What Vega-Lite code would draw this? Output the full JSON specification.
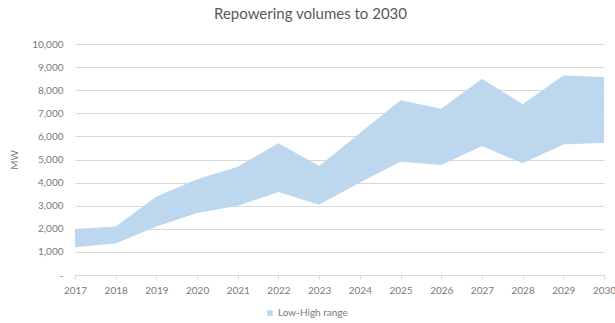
{
  "$schema": "https://vega.github.io/schema/vega-lite/v6.json",
  "width": 529,
  "height": 231,
  "autosize": "none",
  "padding": {"left": 75, "top": 44, "right": 11, "bottom": 48},
  "background": "white",
  "config": {
    "font": "Lato",
    "view": {"stroke": null}
  },
  "title": {
    "text": "Repowering volumes to 2030",
    "fontSize": 15,
    "fontWeight": "normal",
    "color": "#595959",
    "anchor": "middle",
    "dx": -29,
    "offset": 17
  },
  "data": {
    "values": [
      {"year": "2017", "low": 1200, "high": 1990, "series": "Low-High range"},
      {"year": "2018", "low": 1360, "high": 2100, "series": "Low-High range"},
      {"year": "2019", "low": 2100, "high": 3400, "series": "Low-High range"},
      {"year": "2020", "low": 2680, "high": 4150, "series": "Low-High range"},
      {"year": "2021", "low": 3000, "high": 4690, "series": "Low-High range"},
      {"year": "2022", "low": 3590, "high": 5700, "series": "Low-High range"},
      {"year": "2023", "low": 3040, "high": 4720, "series": "Low-High range"},
      {"year": "2024", "low": 4000, "high": 6150, "series": "Low-High range"},
      {"year": "2025", "low": 4900, "high": 7560, "series": "Low-High range"},
      {"year": "2026", "low": 4760, "high": 7200, "series": "Low-High range"},
      {"year": "2027", "low": 5580, "high": 8500, "series": "Low-High range"},
      {"year": "2028", "low": 4840, "high": 7390, "series": "Low-High range"},
      {"year": "2029", "low": 5650, "high": 8640, "series": "Low-High range"},
      {"year": "2030", "low": 5720, "high": 8570, "series": "Low-High range"}
    ]
  },
  "mark": {"type": "area", "opacity": 1},
  "encoding": {
    "x": {
      "field": "year",
      "type": "ordinal",
      "scale": {"type": "point", "padding": 0},
      "axis": {
        "title": null,
        "labelAngle": 0,
        "labelFontSize": 10,
        "labelColor": "#7a7a7a",
        "domainColor": "#d9d9d9",
        "tickColor": "#d9d9d9",
        "tickSize": 4,
        "labelPadding": 6,
        "grid": false
      }
    },
    "y": {
      "field": "high",
      "type": "quantitative",
      "scale": {"domain": [0, 10000], "nice": false},
      "axis": {
        "title": "MW",
        "titleFontSize": 10,
        "titleFontWeight": "normal",
        "titleColor": "#7a7a7a",
        "titlePadding": 12,
        "values": [0, 1000, 2000, 3000, 4000, 5000, 6000, 7000, 8000, 9000, 10000],
        "labelExpr": "datum.value == 0 ? '-' : format(datum.value, ',')",
        "labelFontSize": 10,
        "labelColor": "#7a7a7a",
        "labelPadding": 12,
        "domain": false,
        "ticks": false,
        "gridColor": "#d9d9d9",
        "gridWidth": 1
      }
    },
    "y2": {"field": "low"},
    "color": {
      "field": "series",
      "type": "nominal",
      "scale": {"range": ["#BDD7EE"]},
      "legend": {
        "title": null,
        "orient": "none",
        "legendX": 190,
        "legendY": 264,
        "symbolType": "square",
        "symbolSize": 30,
        "labelFontSize": 10,
        "labelColor": "#7a7a7a",
        "labelOffset": 3
      }
    }
  }
}
